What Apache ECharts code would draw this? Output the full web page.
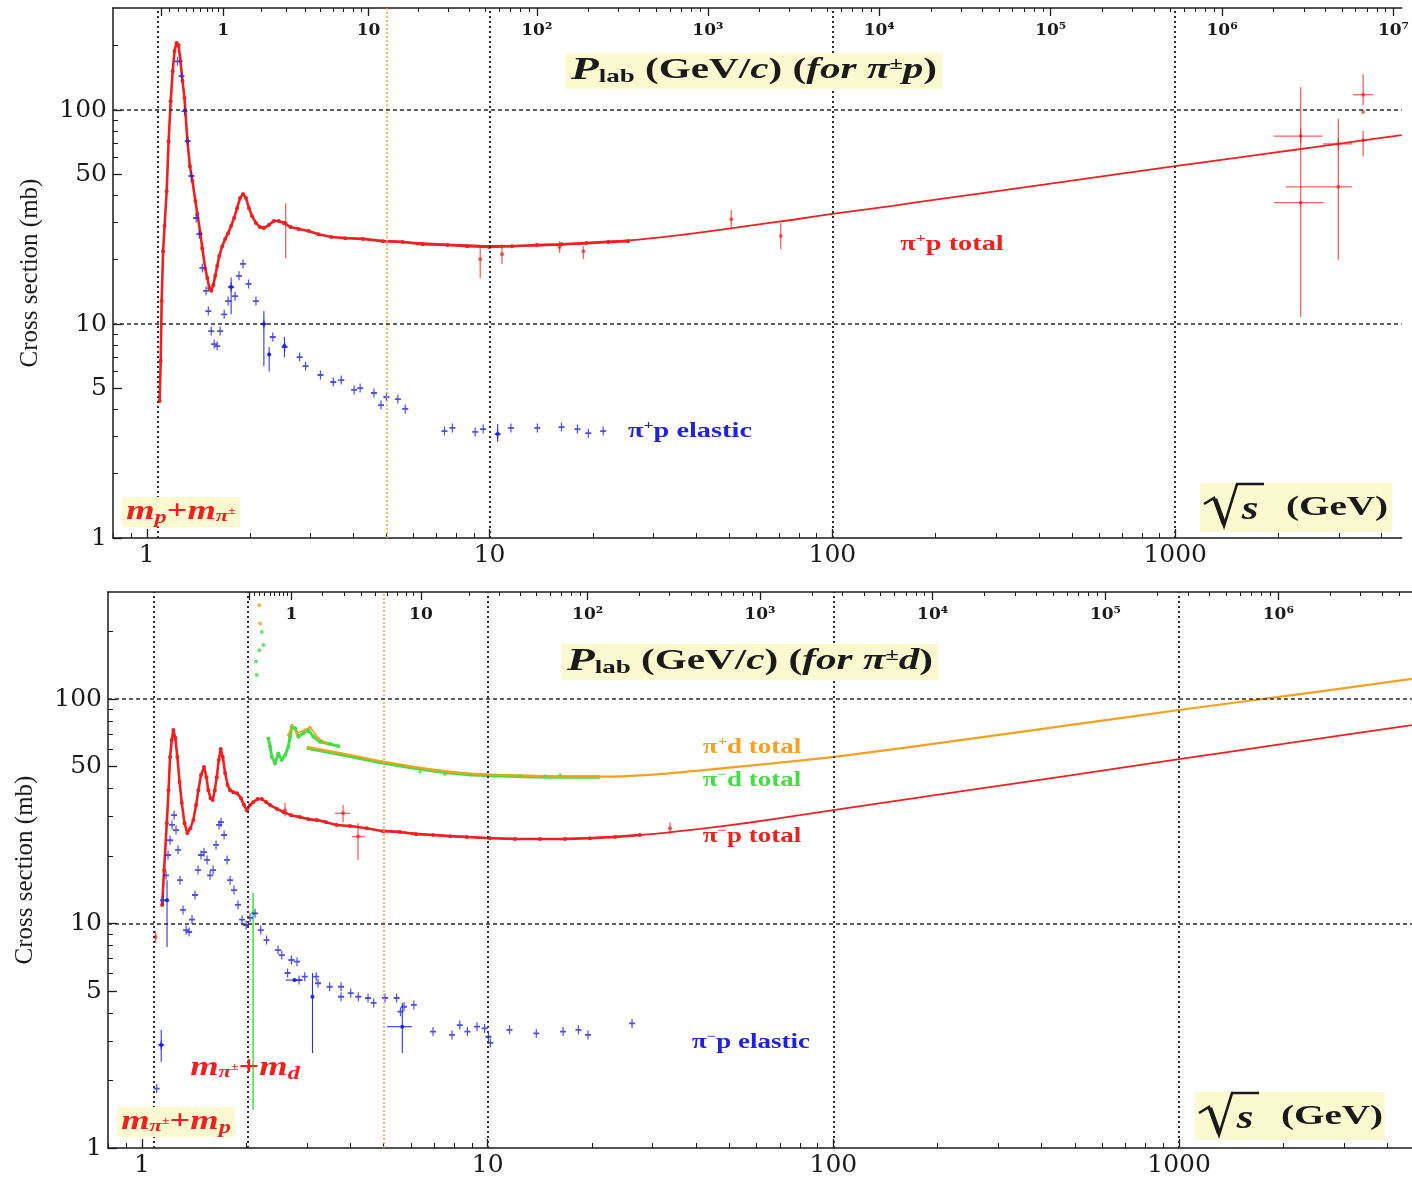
<!DOCTYPE html>
<html><head><meta charset="utf-8"><title>pi p and pi d cross sections</title>
<script src="https://cdn.jsdelivr.net/npm/echarts@6.0.0/dist/echarts.min.js"></script>
<style>html,body{margin:0;padding:0;background:#fff;}#chart{width:1412px;height:1179px;}</style>
</head><body><div id="chart"></div>
<script>
// ---------- physics constants (GeV) ----------
const M_P = 0.93827, M_PI = 0.13957, M_D = 1.87561;

// ---------- axis ranges & tick labels ----------
const X_MIN = 0.797, X_MAX_TOP = 4580, X_MAX_BOT = 4720, Y_MIN = 1, Y_MAX = 300;
const xMajorTicks = [1, 10, 100, 1000];
const yLabelTicks = [1, 5, 10, 50, 100];
const plabMajor = [0.1, 1, 10, 100, 1e3, 1e4, 1e5, 1e6, 1e7];
const plabLabels = ['', '1', '10', '10²', '10³', '10⁴', '10⁵', '10⁶', '10⁷'];
const verticalGrid = [10, 100, 1000];
const horizontalGrid = [10, 100];
const orangeMark = 5;

// ---------- TOP PANEL: pi+ p  [sqrt(s) GeV, sigma mb] ----------
const pipTotal = [[1.090,4.37],[1.098,6.71],[1.105,12.8],[1.116,21.9],[1.127,28.7],[1.143,41.8],[1.158,71.6],[1.174,110],[1.190,152],[1.205,189],[1.221,206],[1.238,201],[1.254,169],[1.271,137],[1.288,114],[1.314,71.6],[1.336,54.7],[1.359,46.6],[1.386,37.6],[1.405,32.7],[1.433,26.6],[1.452,22.6],[1.482,18.1],[1.502,16.4],[1.522,14.7],[1.542,14.3],[1.563,15.2],[1.584,16.8],[1.605,18.7],[1.627,20.8],[1.660,23.1],[1.693,25.0],[1.727,26.6],[1.762,28.7],[1.798,31.3],[1.834,34.8],[1.871,38.8],[1.909,40.5],[1.947,38.8],[1.987,34.8],[2.027,32.0],[2.082,29.7],[2.138,28.4],[2.196,28.1],[2.270,29.0],[2.347,30.3],[2.427,30.3],[2.508,29.7],[2.629,28.4],[2.772,27.8],[2.963,27.2],[3.168,26.3],[3.454,25.5],[3.793,25.2],[4.276,25.0],[4.886,24.4],[5.581,24.2],[6.377,23.6],[7.534,23.4],[8.608,23.1],[9.97,22.9],[11.62,23.1],[13.72,23.4],[16.21,23.6],[19.15,23.9],[22.18,24.2],[25.34,24.4]];
// [sqrt(s), sigma, sLow, sHigh, sigmaLow, sigmaHigh]  (0 = no bar)
const pipTotalErr = [[2.542,29.7,0,0,20.3,36.7],[9.39,20.1,0,0,16.4,22.6],[10.87,21.2,0,0,19.1,23.6],[16.0,22.9,0,0,21.5,24.4],[18.77,21.9,0,0,20.1,23.1],[50.7,30.9,0,0,28.4,34.1],[70.7,25.8,0,0,22.4,29.7],[2323,75.6,1941,2692,70,82],[2323,36.9,1941,2710,10.8,128],[2992,43.8,2102,3280,20,91],[2992,69.5,2700,3280,65,74],[3534,118,3304,3779,105,147],[3534,98,0,0,0,0],[3534,72.2,0,0,60.8,80]];
const pipTotalFit = [[5,24.4],[7.05,23.7],[10,23.2],[14.7,23.3],[20.5,24.0],[28.5,25.0],[39.8,26.6],[55.5,28.6],[77.7,30.8],[100,32.7],[150,35.7],[210,38.6],[295,41.6],[413,44.8],[576,48.3],[1000,54.7],[1562,60.3],[2186,64.9],[3055,69.9],[4580,76.4]];
const pipElastic = [[1.229,169],[1.263,144],[1.288,98.9],[1.317,71.6],[1.350,49.2],[1.393,31.3],[1.423,26.3],[1.452,18.3],[1.489,14.3],[1.512,11.5],[1.542,9.27],[1.573,8.06],[1.605,7.89],[1.637,9.27],[1.682,11.1],[1.727,12.8],[1.762,14.9],[1.810,13.5],[1.858,16.8],[1.909,19.1],[1.982,15.4],[2.082,12.8],[2.196,10.0],[2.331,8.70],[2.525,7.81],[2.791,7.01],[2.905,6.36],[3.211,5.78],[3.500,5.36],[3.693,5.47],[4.026,4.92],[4.192,5.02],[4.600,4.76],[4.822,4.18],[5.0,4.56],[5.40,4.46],[5.675,4.01],[7.385,3.16],[7.790,3.27],[9.08,3.13],[9.58,3.23],[10.56,3.06],[11.54,3.27],[13.78,3.27],[16.21,3.30],[18.04,3.23],[19.41,3.09],[21.45,3.16]];
const pipElasticErr = [[1.762,14.9,0,0,11.1,16.5],[2.196,10.0,0,0,6.36,11.5],[2.275,7.2,0,0,6.0,7.8],[2.52,7.9,0,0,7.0,8.7],[10.56,3.06,0,0,2.81,3.41]];

// ---------- BOTTOM PANEL: pi- p, pi+- d ----------
const pimTotal = [[1.143,12.1],[1.158,17.3],[1.179,28.0],[1.193,39.3],[1.205,55.2],[1.219,65.7],[1.232,72.8],[1.248,67.1],[1.265,55.2],[1.284,42.7],[1.303,34.4],[1.327,28.0],[1.352,25.3],[1.380,26.6],[1.407,28.9],[1.433,33.7],[1.455,39.3],[1.481,45.9],[1.511,49.8],[1.535,44.9],[1.555,39.3],[1.578,36.2],[1.601,35.5],[1.623,39.3],[1.645,44.9],[1.667,53.5],[1.689,59.9],[1.712,55.2],[1.739,46.8],[1.768,41.4],[1.798,39.3],[1.837,38.5],[1.883,38.1],[1.933,36.2],[1.973,33.7],[2.009,32.0],[2.053,33.7],[2.099,34.8],[2.159,35.9],[2.220,35.9],[2.284,34.8],[2.346,33.7],[2.458,32.4],[2.563,31.4],[2.698,30.4],[2.864,29.8],[3.021,29.2],[3.202,28.9],[3.406,28.3],[3.658,27.5],[3.998,27.2],[4.467,26.6],[4.979,25.8],[5.577,25.6],[6.204,25.0],[6.947,24.8],[7.780,24.5],[8.698,24.3],[10.15,24.0],[11.99,23.8],[14.17,23.8],[16.73,23.8],[19.77,24.0],[23.35,24.3],[27.57,24.8]];
const pimTotalErr = [[1.094,8.7,0,0,8.2,9.3],[3.815,31.0,3.616,3.998,28.3,33.7],[4.215,24.4,4.043,4.417,19.2,28.0],[2.593,32.0,0,0,30.0,34.5],[33.68,26.6,0,0,25.0,28.3]];
const pimTotalFit = [[5,26.0],[7,24.8],[10,24.1],[14.9,23.8],[21.1,24.2],[29.5,25.0],[41.1,26.4],[57.4,28.2],[80.1,30.4],[100,32.0],[150,35.1],[236,38.9],[480,45.6],[1000,54.0],[2000,63.1],[4720,76.6]];
const pimElastic = [[1.102,1.84],[1.136,2.88],[1.150,12.7],[1.173,16.4],[1.189,20.2],[1.205,23.5],[1.221,27.5],[1.238,30.4],[1.254,26.1],[1.271,21.3],[1.288,15.6],[1.314,11.5],[1.341,9.35],[1.368,9.17],[1.395,10.4],[1.423,13.4],[1.452,17.3],[1.481,20.2],[1.511,20.8],[1.542,19.2],[1.573,16.4],[1.605,17.3],[1.637,22.4],[1.670,27.5],[1.692,28.3],[1.727,24.8],[1.762,19.2],[1.798,15.6],[1.845,14.1],[1.895,12.1],[1.947,10.4],[2.0,9.85],[2.053,10.6],[2.123,11.1],[2.205,9.35],[2.292,8.44],[2.474,7.62],[2.537,7.24],[2.636,6.02],[2.704,6.88],[2.808,6.76],[2.846,5.60],[2.955,5.80],[3.190,5.80],[3.229,5.42],[3.489,5.23],[3.764,5.23],[3.764,4.72],[4.015,4.90],[4.224,4.72],[4.505,4.66],[4.677,4.43],[5.046,4.66],[5.451,4.66],[5.591,4.05],[5.727,4.26],[6.113,4.34],[6.947,3.30],[7.884,3.19],[8.299,3.53],[8.737,3.30],[9.311,3.47],[9.795,3.41],[10.05,3.13],[10.18,2.94],[11.56,3.36],[13.82,3.24],[16.52,3.30],[18.30,3.36],[19.50,3.19],[26.15,3.59]];
const pimElasticErr = [[1.136,2.88,0,0,2.42,3.36],[1.181,12.7,0,0,7.86,15.6],[3.111,4.72,0,0,2.65,6.02],[5.66,3.47,5.114,6.04,2.65,4.43],[2.76,5.6,2.603,2.918,0,0]];
const pimdElasticErr = [[2.095,11.1,0,0,1.48,13.7]];
const pimdThreshold = [[2.137,147],[2.147,128],[2.184,165],[2.220,199],[2.244,174]];
const pipdThreshold = [[2.184,262],[2.194,217]];
const pimdResonance = [[2.319,66.8],[2.346,61.3],[2.373,55.3],[2.425,51.7],[2.479,57.3],[2.536,53.5],[2.593,56.3],[2.650,61.3],[2.680,68.0],[2.710,75.3],[2.771,74.1],[2.832,68.0],[2.928,70.4],[3.028,72.8],[3.130,68.0],[3.273,64.5],[3.498,63.1],[3.697,61.7]];
const pipdResonance = [[2.650,69.1],[2.716,76.6],[2.808,70.6],[2.961,72.8],[3.062,75.0],[3.229,67.1],[3.406,63.7]];
const pimdHigh = [[6.37,47.3],[7.52,46.3],[8.89,45.9],[10.50,45.4],[12.40,45.4],[14.65,45.4],[16.19,45.9]];
const pimdFit = [[2.996,60.5],[3.74,56.8],[4.98,52.0],[6.94,47.9],[8.7,46.2],[10.87,45.5],[15.2,45.0],[21.1,45.0]];
const pipdFit = [[2.996,61.3],[3.74,57.5],[4.98,52.7],[6.94,48.5],[8.7,46.7],[10.87,45.9],[15.2,45.3],[21.1,45.1],[29.5,46.0],[42.1,48.3],[65.5,51.6],[100.7,55.3],[155.9,60.3],[236,65.8],[481,76.5],[1000,89.4],[2240,105.3],[4720,123.0]];

// ---------- styling ----------
const TIMES = '"Liberation Serif","Times New Roman",serif';
const DSERIF = '"DejaVu Serif",serif';
const INK = '#1a1a1a', BOXBG = '#fbf9cf';
const RED = '#ee2020', BLUE = '#2222dd', ORANGE = '#f5a01e', GREEN = '#45dd45';
const RED_ERR = 'rgba(236,40,40,0.72)';
const PLUS = 'path://M4,0H6V4H10V6H6V10H4V6H0V4H4Z';
const L = Math.log10;

function sqrtS(p, mBeam, mTarget) {
  return Math.sqrt(mBeam * mBeam + mTarget * mTarget + 2 * mTarget * Math.sqrt(p * p + mBeam * mBeam));
}
function minorValues(lo, hi) {
  const r = [];
  for (let k = -2; k <= 8; k++) for (let m = 2; m <= 9; m++) {
    const v = m * Math.pow(10, k);
    if (v > lo && v < hi) r.push(v);
  }
  return r;
}

function xDecoAxes(g, xMax, mTarget) {
  const lo = L(X_MIN), hi = L(xMax);
  const base = { type: 'value', gridIndex: g, min: lo, max: hi, splitLine: { show: false } };
  const majors = xMajorTicks.map(L);
  const minors = minorValues(X_MIN, xMax).map(L);
  const pAll = plabMajor.map(p => L(sqrtS(p, M_PI, mTarget)));
  const pMaj = pAll.filter(v => v < hi);
  const pMin = minorValues(0.1, 1e7).map(p => L(sqrtS(p, M_PI, mTarget))).filter(v => v < hi);
  const line = { show: true, onZero: false, lineStyle: { color: INK, width: 1.5 } };
  return [
    Object.assign({}, base, { position: 'bottom', axisLine: line,
      axisTick: { show: true, inside: true, length: 9, customValues: majors, lineStyle: { color: INK, width: 1.3 } },
      axisLabel: { show: true, customValues: majors, formatter: v => String(Math.round(Math.pow(10, v))),
        fontFamily: DSERIF, fontSize: 25, color: INK, margin: 5 } }),
    Object.assign({}, base, { position: 'bottom', axisLine: { show: false, onZero: false },
      axisTick: { show: true, inside: true, length: 5, customValues: minors, lineStyle: { color: INK, width: 1 } },
      axisLabel: { show: false } }),
    Object.assign({}, base, { position: 'top', axisLine: line,
      axisTick: { show: true, inside: true, length: 8, customValues: pMaj, lineStyle: { color: INK, width: 1.3 } },
      axisLabel: { show: true, inside: true, customValues: pMaj.slice(1), margin: 14,
        formatter: v => { const i = pAll.findIndex(q => Math.abs(q - v) < 1e-9); return i >= 0 ? plabLabels[i] : ''; },
        fontFamily: DSERIF, fontWeight: 'bold', fontSize: 17, color: INK } }),
    Object.assign({}, base, { position: 'top', axisLine: { show: false, onZero: false },
      axisTick: { show: true, inside: true, length: 4, customValues: pMin, lineStyle: { color: INK, width: 1 } },
      axisLabel: { show: false } })
  ];
}
function yDecoAxes(g) {
  const base = { type: 'value', gridIndex: g, min: 0, max: L(Y_MAX), splitLine: { show: false } };
  const maj = yLabelTicks.map(L);
  const mins = minorValues(Y_MIN, Y_MAX).filter(v => yLabelTicks.indexOf(v) < 0).map(L);
  return [
    Object.assign({}, base, { position: 'left', name: 'Cross section (mb)', nameLocation: 'middle', nameGap: 70,
      nameTextStyle: { fontFamily: TIMES, fontSize: 25, color: INK },
      axisLine: { show: true, onZero: false, lineStyle: { color: INK, width: 1.5 } },
      axisTick: { show: true, inside: true, length: 9, customValues: maj, lineStyle: { color: INK, width: 1.3 } },
      axisLabel: { show: true, customValues: maj, formatter: v => String(Math.round(Math.pow(10, v))),
        fontFamily: DSERIF, fontSize: 25, color: INK, margin: 6 } }),
    Object.assign({}, base, { position: 'left', axisLine: { show: false, onZero: false },
      axisTick: { show: true, inside: true, length: 5, customValues: mins, lineStyle: { color: INK, width: 1 } },
      axisLabel: { show: false } })
  ];
}

const VDOT = { color: '#2b2b2b', width: 2, type: [2, 3] };
const HDASH = { color: '#2b2b2b', width: 1.5, type: [4, 3] };
const ODOT = { color: '#f0a040', width: 1.5, type: [2, 2] };
function gridMarks(thresholds) {
  return {
    silent: true, symbol: ['none', 'none'], animation: false, label: { show: false },
    data: thresholds.concat(verticalGrid).map(v => ({ xAxis: v, lineStyle: VDOT }))
      .concat([{ xAxis: orangeMark, lineStyle: ODOT }])
      .concat(horizontalGrid.map(v => ({ yAxis: v, lineStyle: HDASH })))
  };
}
function errRender(color, w) {
  return function (params, api) {
    const s = api.value(0), v = api.value(1), sl = api.value(2), sh = api.value(3), vl = api.value(4), vh = api.value(5);
    const c = api.coord([s, v]); const ch = [];
    if (vl > 0 && vh > 0) {
      const a = api.coord([s, vl]), b = api.coord([s, vh]);
      ch.push({ type: 'line', shape: { x1: c[0], y1: a[1], x2: c[0], y2: b[1] }, style: { stroke: color, lineWidth: w } });
    }
    if (sl > 0 && sh > 0) {
      const a = api.coord([sl, v]), b = api.coord([sh, v]);
      ch.push({ type: 'line', shape: { x1: a[0], y1: c[1], x2: b[0], y2: c[1] }, style: { stroke: color, lineWidth: w } });
    }
    ch.push({ type: 'circle', shape: { cx: c[0], cy: c[1], r: 2 }, style: { fill: color } });
    return { type: 'group', children: ch };
  };
}
function lineS(g, data, color, width, extra) {
  return Object.assign({ type: 'line', xAxisIndex: g, yAxisIndex: g, data, showSymbol: false, silent: true,
    lineStyle: { color, width }, itemStyle: { color } }, extra || {});
}
function dotS(g, data, color, size, extra) {
  return Object.assign({ type: 'scatter', xAxisIndex: g, yAxisIndex: g, data, symbol: 'circle', symbolSize: size,
    silent: true, itemStyle: { color } }, extra || {});
}
function errS(g, data, color, w) {
  return { type: 'custom', xAxisIndex: g, yAxisIndex: g, data, silent: true, encode: { x: 0, y: 1 },
    dimensions: ['s', 'v', 'sl', 'sh', 'vl', 'vh'], renderItem: errRender(color, w), z: 3 };
}

// ---------- text annotations ----------
const rs = (size, color, italic, extra) => Object.assign({ fontFamily: TIMES, fontSize: size, fontWeight: 'bold',
  fontStyle: italic ? 'italic' : 'normal', fill: color }, extra || {});
function tx(x, y, text, rich, sx, style) {
  return { type: 'text', x, y, scaleX: sx, z: 100, style: Object.assign({ text, rich, align: 'center', verticalAlign: 'middle' }, style || {}) };
}
function plabBox(x, y, target) {
  return tx(x, y, '{P|P}{sub|lab}{n| (GeV/}{i|c}{n|) (}{i|for π}{sup|±}{i|' + target + '}{n|)}', {
    P: rs(32, INK, true), sub: rs(19, INK, false, { padding: [13, 0, 0, 0] }),
    n: rs(29, INK, false), i: rs(29, INK, true), sup: rs(17, INK, false, { padding: [0, 0, 13, 0] })
  }, 1.42, { backgroundColor: BOXBG, padding: [2, 4, 2, 4] });
}
function seriesLabel(x, y, charge, target, word, color, size) {
  return tx(x, y, '{a|π}{u|' + charge + '}{a|' + target + ' ' + word + '}', {
    a: rs(size, color), u: rs(Math.round(size * 0.6), color, false, { padding: [0, 0, 12, 0] })
  }, 1.35);
}
function massLabel(x, y, parts, bg) {
  return tx(x, y, parts, {
    m: rs(27, RED, true), s: rs(18, RED, true, { padding: [12, 0, 0, 0] }), o: rs(27, RED, false),
    t: rs(17, RED, true, { padding: [10, 0, 0, 0] }), u: rs(10, RED, false, { padding: [0, 0, 2, 0] })
  }, 1.35, bg ? { backgroundColor: BOXBG, padding: [0, 3, 0, 3] } : {});
}
function sqrtBox(x0, y0, w, h) {
  return [
    { type: 'rect', z: 99, shape: { x: x0, y: y0, width: w, height: h }, style: { fill: BOXBG } },
    { type: 'polyline', z: 100, shape: { points: [[x0 + 4, y0 + 21], [x0 + 14, y0 + 15], [x0 + 24, y0 + 43], [x0 + 37, y0 + 1], [x0 + 64, y0 + 1]] },
      style: { stroke: INK, lineWidth: 2.6, fill: null, lineJoin: 'miter' } },
    { type: 'line', z: 100, shape: { x1: x0 + 15, y1: y0 + 16, x2: x0 + 24, y2: y0 + 41 }, style: { stroke: INK, lineWidth: 4.5 } },
    tx(x0 + 50, y0 + 27, '{s|s}', { s: rs(33, INK, true) }, 1.3),
    tx(x0 + 137, y0 + 25, '{g|(GeV)}', { g: rs(27, INK, false) }, 1.45)
  ];
}

const graphics = [
  plabBox(754, 71, 'p'),
  seriesLabel(952, 245, '+', 'p', 'total', RED, 21),
  seriesLabel(690, 432, '+', 'p', 'elastic', BLUE, 21),
  massLabel(181, 512, '{m|m}{s|p}{o|+}{m|m}{t|π}{u|±}', true),
  plabBox(750, 662, 'd'),
  seriesLabel(752, 748, '+', 'd', 'total', ORANGE, 20),
  seriesLabel(752, 781, '−', 'd', 'total', GREEN, 20),
  seriesLabel(752, 837, '−', 'p', 'total', RED, 20),
  seriesLabel(751, 1043, '−', 'p', 'elastic', BLUE, 20),
  massLabel(245, 1068, '{m|m}{t|π}{u|±}{o|+}{m|m}{s|d}', false),
  massLabel(176, 1122, '{m|m}{t|π}{u|±}{o|+}{m|m}{s|p}', true)
].concat(sqrtBox(1200, 483, 192, 49)).concat(sqrtBox(1195, 1092, 190, 48));

const option = {
  animation: false,
  backgroundColor: '#ffffff',
  grid: [
    { left: 113, top: 8, width: 1299, height: 530 },
    { left: 108, top: 592, width: 1304, height: 556 }
  ],
  xAxis: [
    { type: 'log', logBase: 10, gridIndex: 0, min: X_MIN, max: X_MAX_TOP, show: false },
    { type: 'log', logBase: 10, gridIndex: 1, min: X_MIN, max: X_MAX_BOT, show: false }
  ].concat(xDecoAxes(0, X_MAX_TOP, M_P)).concat(xDecoAxes(1, X_MAX_BOT, M_D)),
  yAxis: [
    { type: 'log', logBase: 10, gridIndex: 0, min: Y_MIN, max: Y_MAX, show: false },
    { type: 'log', logBase: 10, gridIndex: 1, min: Y_MIN, max: Y_MAX, show: false }
  ].concat(yDecoAxes(0)).concat(yDecoAxes(1)),
  series: [
    // top panel
    lineS(0, pipTotalFit, RED, 1.8, { smooth: 0.2, markLine: gridMarks([M_P + M_PI]) }),
    lineS(0, pipTotal, RED, 2.6, { showSymbol: true, symbol: 'circle', symbolSize: 4, z: 3 }),
    errS(0, pipTotalErr, RED_ERR, 1.3),
    { type: 'scatter', xAxisIndex: 0, yAxisIndex: 0, data: pipElastic, symbol: PLUS, symbolSize: [6, 9], silent: true, itemStyle: { color: BLUE }, z: 4 },
    errS(0, pipElasticErr, BLUE, 1),
    // bottom panel
    lineS(1, pimTotalFit, RED, 1.8, { smooth: 0.2, markLine: gridMarks([M_P + M_PI, M_D + M_PI]) }),
    lineS(1, pimdFit, GREEN, 3.5, { smooth: 0.2 }),
    lineS(1, pipdFit, ORANGE, 2.2, { smooth: 0.2 }),
    lineS(1, pimTotal, RED, 2.6, { showSymbol: true, symbol: 'circle', symbolSize: 4, z: 3 }),
    errS(1, pimTotalErr, RED_ERR, 1.3),
    { type: 'scatter', xAxisIndex: 1, yAxisIndex: 1, data: pimElastic, symbol: PLUS, symbolSize: [6, 9], silent: true, itemStyle: { color: BLUE }, z: 4 },
    errS(1, pimElasticErr, BLUE, 1),
    lineS(1, pimdResonance, GREEN, 3, { showSymbol: true, symbol: 'circle', symbolSize: 4, z: 3 }),
    lineS(1, pipdResonance, ORANGE, 1.6, { showSymbol: true, symbol: 'circle', symbolSize: 3, z: 3 }),
    dotS(1, pimdThreshold, GREEN, 4, { z: 3 }),
    dotS(1, pipdThreshold, ORANGE, 4, { z: 3 }),
    dotS(1, pimdHigh, GREEN, 3.5, { z: 3 }),
    errS(1, pimdElasticErr, GREEN, 1.5)
  ],
  graphic: graphics
};

const chart = echarts.init(document.getElementById('chart'), null, { renderer: 'canvas' });
chart.setOption(option);
</script>
</body></html>
